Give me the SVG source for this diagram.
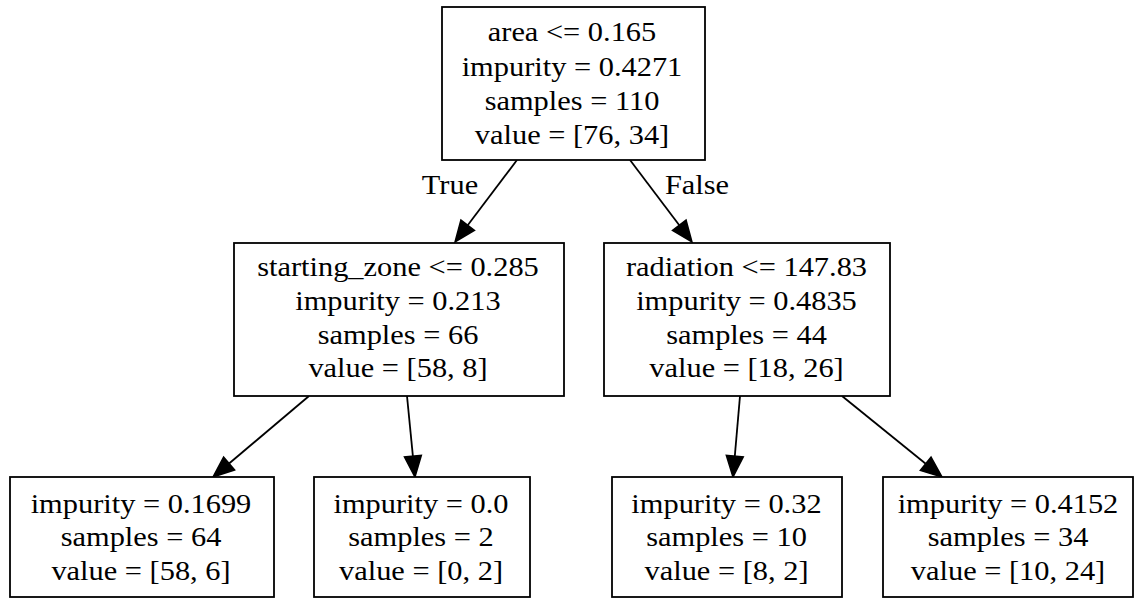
<svg xmlns="http://www.w3.org/2000/svg" width="1143" height="598" viewBox="0 0 1143 598">
  <style>
    .box { fill: #ffffff; stroke: #000000; stroke-width: 1.8; }
    .edge { stroke: #000000; stroke-width: 1.8; fill: none; }
    text { font-family: "Liberation Serif", "Times New Roman", serif; font-size: 28px; fill: #000000; text-anchor: middle; }
  </style>
  <defs>
    <marker id="arrow" markerUnits="userSpaceOnUse" markerWidth="26" markerHeight="22" viewBox="-2 -11 26 22" refX="0" refY="0" orient="auto">
      <path d="M0,-8.5 L21,0 L0,8.5 Z" fill="#000000" stroke="#000000" stroke-width="1.5" stroke-linejoin="miter"/>
    </marker>
  </defs>
  <rect width="1143" height="598" fill="#ffffff"/>

  <!-- connectors -->
  <g id="edges">
    <line class="edge" x1="517" y1="160" x2="467.7" y2="225.2" marker-end="url(#arrow)"/>
    <line class="edge" x1="630" y1="160" x2="679.3" y2="225.2" marker-end="url(#arrow)"/>
    <line class="edge" x1="309" y1="396" x2="229.1" y2="463.5" marker-end="url(#arrow)"/>
    <line class="edge" x1="407" y1="396" x2="412.9" y2="456.1" marker-end="url(#arrow)"/>
    <line class="edge" x1="740" y1="396" x2="734.8" y2="456.1" marker-end="url(#arrow)"/>
    <line class="edge" x1="842" y1="396" x2="925.7" y2="463.8" marker-end="url(#arrow)"/>
    <text transform="translate(450,194) scale(1.086,1)">True</text>
    <text transform="translate(697,194) scale(1.086,1)">False</text>
  </g>

  <!-- root split -->
  <g id="node0">
    <rect class="box" x="442" y="7" width="263" height="153"/>
    <text transform="translate(572,41) scale(1.086,1)">area &lt;= 0.165</text>
    <text transform="translate(572,75.5) scale(1.086,1)">impurity = 0.4271</text>
    <text transform="translate(572,110) scale(1.086,1)">samples = 110</text>
    <text transform="translate(572,144) scale(1.086,1)">value = [76, 34]</text>
  </g>

  <!-- left split -->
  <g id="node1">
    <rect class="box" x="234" y="243" width="330" height="153"/>
    <text transform="translate(398,276) scale(1.086,1)">starting_zone &lt;= 0.285</text>
    <text transform="translate(398,310) scale(1.086,1)">impurity = 0.213</text>
    <text transform="translate(398,343.5) scale(1.086,1)">samples = 66</text>
    <text transform="translate(398,377) scale(1.086,1)">value = [58, 8]</text>
  </g>

  <!-- right split -->
  <g id="node4">
    <rect class="box" x="604" y="243" width="286" height="153"/>
    <text transform="translate(746.5,276) scale(1.086,1)">radiation &lt;= 147.83</text>
    <text transform="translate(746.5,310) scale(1.086,1)">impurity = 0.4835</text>
    <text transform="translate(746.5,343.5) scale(1.086,1)">samples = 44</text>
    <text transform="translate(746.5,377) scale(1.086,1)">value = [18, 26]</text>
  </g>

  <!-- leaves -->
  <g id="node2">
    <rect class="box" x="10" y="477" width="264" height="120"/>
    <text transform="translate(141,513) scale(1.086,1)">impurity = 0.1699</text>
    <text transform="translate(141,546) scale(1.086,1)">samples = 64</text>
    <text transform="translate(141,579.5) scale(1.086,1)">value = [58, 6]</text>
  </g>

  <g id="node3">
    <rect class="box" x="314" y="477" width="216" height="120"/>
    <text transform="translate(421,513) scale(1.086,1)">impurity = 0.0</text>
    <text transform="translate(421,546) scale(1.086,1)">samples = 2</text>
    <text transform="translate(421,579.5) scale(1.086,1)">value = [0, 2]</text>
  </g>

  <g id="node5">
    <rect class="box" x="612" y="477" width="230" height="120"/>
    <text transform="translate(726.5,513) scale(1.086,1)">impurity = 0.32</text>
    <text transform="translate(726.5,546) scale(1.086,1)">samples = 10</text>
    <text transform="translate(726.5,579.5) scale(1.086,1)">value = [8, 2]</text>
  </g>

  <g id="node6">
    <rect class="box" x="883" y="477" width="250" height="120"/>
    <text transform="translate(1008,513) scale(1.086,1)">impurity = 0.4152</text>
    <text transform="translate(1008,546) scale(1.086,1)">samples = 34</text>
    <text transform="translate(1008,579.5) scale(1.086,1)">value = [10, 24]</text>
  </g>
</svg>
